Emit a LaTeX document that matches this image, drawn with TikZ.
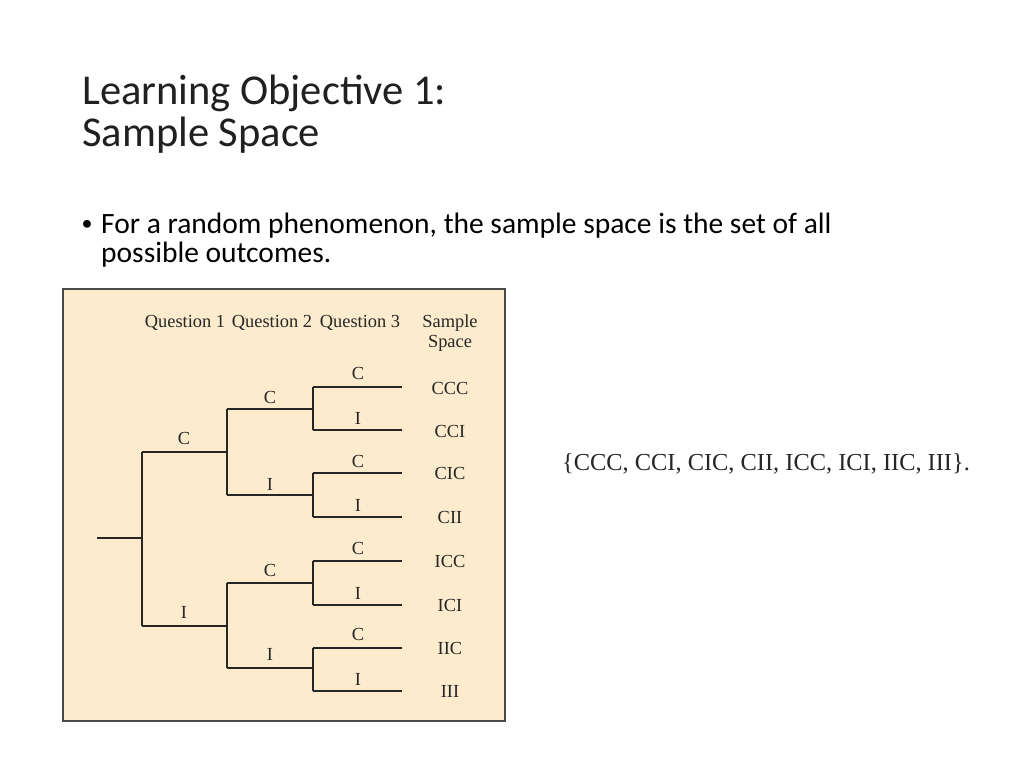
\documentclass[tikz,border=0pt]{standalone}
\usepackage{fontspec}
\setmainfont{Carlito}
\newfontfamily\serif{Liberation Serif}
\definecolor{boxfill}{HTML}{FCEBCC}
\definecolor{boxline}{HTML}{4A4A4A}
\definecolor{ink}{HTML}{262626}
\definecolor{titleink}{HTML}{202020}
\tikzset{
  title/.style={anchor=base west, inner sep=0, text=titleink, font=\fontsize{42.5}{42.5}\selectfont},
  body/.style={anchor=base west, inner sep=0, font=\fontsize{29.5}{29.5}\selectfont},
  lab/.style={inner sep=0, text=ink, font=\serif\fontsize{18.4}{18.4}\selectfont},
  branch/.style={draw=ink, line width=1.6pt},
}
\begin{document}
\begin{tikzpicture}[x=1pt,y=-1pt]
\useasboundingbox (0,0) rectangle (1024,768);
\fill[white] (0,0) rectangle (1024,768);
% title
\node[title] (t1) at (82,104) {Learning Objective 1:};
\node[title] (t2) at (82,146) {Sample Space};
% bullet
\node[inner sep=0, font=\fontsize{22}{22}\selectfont] (bul) at (87,225) {•};
\node[body] (b1) at (101,233) {For a random phenomenon, the sample space is the set of all};
\node[body] (b2) at (101,262) {possible outcomes.};
% box
\draw[fill=boxfill, draw=boxline, line width=1.5pt] (63,289) rectangle (505,721);
% headers
\node[lab] (h1) at (185,323) {Question 1};
\node[lab] (h2) at (272,323) {Question 2};
\node[lab] (h3) at (360,323) {Question 3};
\node[lab] (h4) at (450,323) {Sample};
\node[lab] (h5) at (450,343) {Space};
% tree coordinates
\coordinate (r0) at (97,538);
\coordinate (r) at (142,538);
\coordinate (a1) at (142,452);
\coordinate (a2) at (142,626);
\coordinate (c1) at (227,409);
\coordinate (c2) at (227,495);
\coordinate (c3) at (227,583);
\coordinate (c4) at (227,668);
\coordinate (d1) at (313,409);
\coordinate (d2) at (313,495);
\coordinate (d3) at (313,583);
\coordinate (d4) at (313,668);
\foreach \i/\y in {1/387,2/430,3/473,4/517,5/561,6/605,7/648,8/691}{
  \coordinate (e\i) at (313,\y);
  \coordinate (l\i) at (402,\y);
}
% tree branches
\draw[branch] (r0) -- (r);
\draw[branch] (a1) -- (a2);
\draw[branch] (a1) -- (c1 |- a1) coordinate (ab1);
\draw[branch] (a2) -- (c3 |- a2) coordinate (ab2);
\draw[branch] (c1) -- (c2);
\draw[branch] (c3) -- (c4);
\draw[branch] (c1) -- (d1);
\draw[branch] (c2) -- (d2);
\draw[branch] (c3) -- (d3);
\draw[branch] (c4) -- (d4);
\draw[branch] (e1) -- (e2);
\draw[branch] (e3) -- (e4);
\draw[branch] (e5) -- (e6);
\draw[branch] (e7) -- (e8);
\foreach \i in {1,...,8}{ \draw[branch] (e\i) -- (l\i); }
% branch labels
\node[lab] (q1c) at (184,438) {C};
\node[lab] (q1i) at (184,612) {I};
\node[lab] (q2c1) at (270,397) {C};
\node[lab] (q2i1) at (270,484) {I};
\node[lab] (q2c2) at (270,570) {C};
\node[lab] (q2i2) at (270,654) {I};
\node[lab] (q3a) at (358,373) {C};
\node[lab] (q3b) at (358,418) {I};
\node[lab] (q3c) at (358,461) {C};
\node[lab] (q3d) at (358,505) {I};
\node[lab] (q3e) at (358,548) {C};
\node[lab] (q3f) at (358,593) {I};
\node[lab] (q3g) at (358,634) {C};
\node[lab] (q3h) at (358,679) {I};
% outcomes
\node[lab] (o1) at (450,388) {CCC};
\node[lab] (o2) at (450,431) {CCI};
\node[lab] (o3) at (450,473) {CIC};
\node[lab] (o4) at (450,517) {CII};
\node[lab] (o5) at (450,561) {ICC};
\node[lab] (o6) at (450,605) {ICI};
\node[lab] (o7) at (450,648) {IIC};
\node[lab] (o8) at (450,691) {III};
% set
\node[anchor=base west, inner sep=0, text=ink, font=\serif\fontsize{24.4}{24.4}\selectfont] (set) at (562,470) {\{CCC, CCI, CIC, CII, ICC, ICI, IIC, III\}.};
\end{tikzpicture}
\end{document}
